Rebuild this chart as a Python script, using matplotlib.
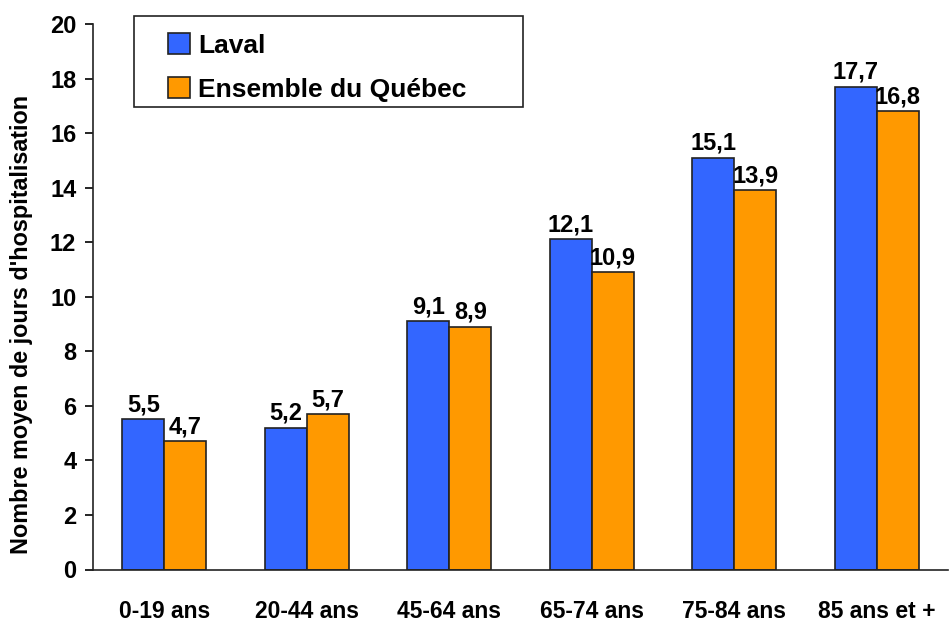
import numpy as np
import matplotlib
matplotlib.use('Agg')
import matplotlib.pyplot as plt
from matplotlib.patches import Rectangle

plt.rcParams['font.family'] = ['Liberation Sans', 'DejaVu Sans']
plt.rcParams['font.weight'] = 'bold'

categories = ['0-19 ans', '20-44 ans', '45-64 ans', '65-74 ans', '75-84 ans', '85 ans et +']
laval = [5.5, 5.2, 9.1, 12.1, 15.1, 17.7]
quebec = [4.7, 5.7, 8.9, 10.9, 13.9, 16.8]
series_names = ['Laval', 'Ensemble du Québec']

W, H = 951, 625
fig = plt.figure(figsize=(W / 100, H / 100), dpi=100)
ax = fig.add_axes([93 / W, 55.5 / H, 855 / W, 545.5 / H])

x = np.arange(len(categories))
w = 0.295
b1 = ax.bar(x - w / 2, laval, w, color='#3366FF', edgecolor='#222222', linewidth=1.2, label=series_names[0])
b2 = ax.bar(x + w / 2, quebec, w, color='#FF9900', edgecolor='#222222', linewidth=1.2, label=series_names[1])

for bars, vals in [(b1, laval), (b2, quebec)]:
    for rect, v in zip(bars, vals):
        ax.annotate(f'{v:.1f}'.replace('.', ','),
                    (rect.get_x() + rect.get_width() / 2, rect.get_height()),
                    xytext=(0, 2), textcoords='offset points',
                    ha='center', va='bottom', fontsize=17, fontweight='bold')

ax.set_xlim(-0.5, len(categories) - 0.5)
ax.set_ylim(0, 20)
ax.set_yticks(range(0, 21, 2))
ax.set_xticks(x)
ax.set_xticklabels(categories, fontsize=16.5, fontweight='bold')
ax.tick_params(axis='x', length=0, pad=22)
ax.tick_params(axis='y', labelsize=17, length=6, width=1.2, direction='out', pad=6)
for lab in ax.get_yticklabels():
    lab.set_fontweight('bold')

ax.spines['top'].set_visible(False)
ax.spines['right'].set_visible(False)
for s in ['left', 'bottom']:
    ax.spines[s].set_linewidth(1.2)
    ax.spines[s].set_color('#222222')

ax.set_ylabel("Nombre moyen de jours d'hospitalisation", fontsize=16.8, fontweight='bold')
ax.yaxis.set_label_coords(33 / W, 1 - 324 / H, transform=fig.transFigure)

# legend box drawn separately so its padding matches
fig.patches.append(Rectangle((134 / W, 1 - 107 / H), (523 - 134) / W, 91 / H,
                             transform=fig.transFigure, facecolor='white',
                             edgecolor='#222222', linewidth=1.2, zorder=5))
leg = fig.legend(handles=[b1, b2], labels=series_names, loc='upper left',
                 bbox_to_anchor=(168 / W, 1 - 33 / H), fontsize=19, frameon=False,
                 handlelength=0.85, handleheight=0.85, handletextpad=0.3,
                 borderpad=0, labelspacing=0.75, borderaxespad=0)
leg.set_zorder(6)
for t in leg.get_texts():
    t.set_fontweight('bold')

fig.savefig('out.png', dpi=100)
